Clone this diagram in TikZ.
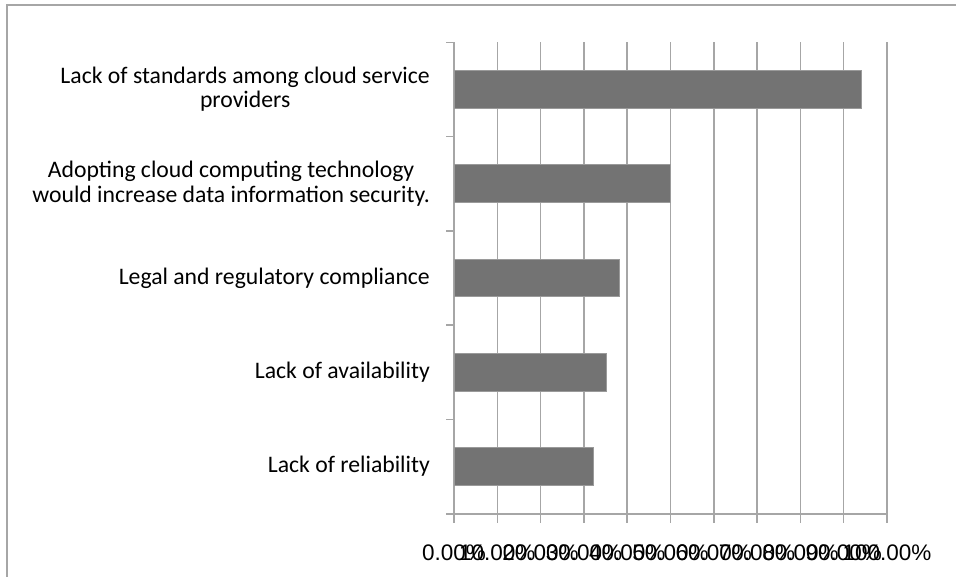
\documentclass[tikz,border=0pt]{standalone}
\usepackage{fontspec}
\setmainfont{Carlito}
\newfontfamily\axisfont{Liberation Sans}
\definecolor{barfill}{HTML}{737373}
\definecolor{barline}{HTML}{9A9A9A}
\definecolor{gridgray}{HTML}{A6A6A6}
\begin{document}
\begin{tikzpicture}[x=1pt,y=-1pt,
    grid/.style = {draw=gridgray,line width=1.5pt},
    bar/.style = {fill=barfill,draw=barline,line width=1pt},
    catlabel/.style = {anchor=east,inner sep=0pt,align=center,font=\fontsize{23.7}{24.5}\selectfont},
    ticklabel/.style = {inner sep=0pt,font=\axisfont\fontsize{22.5}{22.5}\selectfont}]
            \useasboundingbox (0,0) rectangle (956,577);

            % Frame
            \draw[grid] (7,577) -- (7,5) -- (956,5);

            % Grid lines
            \foreach \k in {1,...,10}
                \draw[grid] (454+43.3*\k,42.5) -- (454+43.3*\k,523);

            % Axes
            \draw[grid] (454,42.5) -- (454,523);
            \draw[grid] (446,514) -- (887,514);
            \foreach \i in {0,...,4}
                \draw[grid] (446,42.5+94.2*\i) -- (454,42.5+94.2*\i);

            % Bars
            \foreach \v [count=\i] in {94.2,50,38.2,35.3,32.3}
                \draw[bar] (454,42.5+94.2*\i-47.1-18.8) rectangle (454+4.33*\v,42.5+94.2*\i-47.1+18.8);

            % Category labels
            \node[catlabel] (standards) at (430,89) {Lack of standards among cloud service\\providers};
            \node[catlabel] (security) at (430,183.8) {Adopting cloud computing technology\\would increase data information security.};
            \node[catlabel] (legal) at (430,278) {Legal and regulatory compliance};
            \node[catlabel] (availability) at (430,372.2) {Lack of availability};
            \node[catlabel] (reliability) at (430,466.4) {Lack of reliability};

            % Value labels
            \foreach \k in {0,...,10}
                \node[ticklabel] (tick\k) at (454+43.3*\k,553) {\pgfmathparse{int(10*\k)}\pgfmathresult.00\%};
\end{tikzpicture}
\end{document}
